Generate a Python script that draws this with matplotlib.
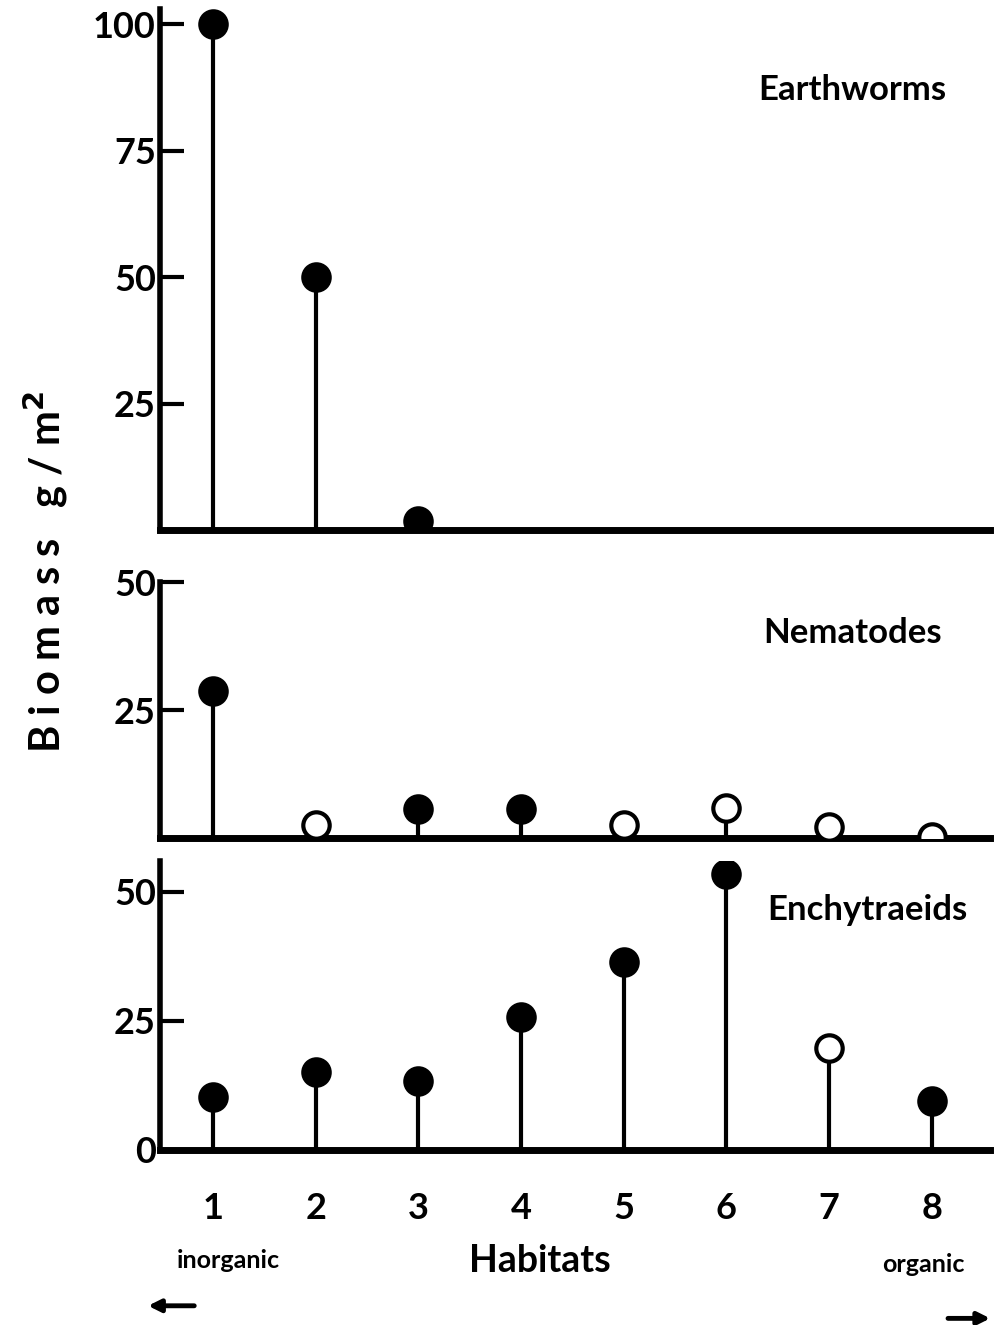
import matplotlib
matplotlib.use("Agg")
import matplotlib.pyplot as plt
import numpy as np

habitats = [1, 2, 3, 4, 5, 6, 7, 8]

# earthworms only at the first three habitats
worm_x = [1, 2, 3]
worm_y = [100, 50, 1.8]
worm_filled = [True, True, True]

nema_y = [28.7, 2.6, 5.7, 5.7, 2.6, 5.9, 2.2, 0.2]
nema_filled = [True, False, True, True, False, False, False, False]

ench_y = [10.3, 15.2, 13.4, 25.7, 36.4, 53.5, 19.8, 9.5]
ench_filled = [True, True, True, True, True, True, False, True]

plt.rcParams['font.family'] = ['Lato', 'DejaVu Sans']
plt.rcParams['font.weight'] = 'bold'

fig = plt.figure(figsize=(9.95, 13.25), dpi=100)
left, width = 0.1608, 0.834
ax1 = fig.add_axes([left, 0.600, width, 0.3932])
ax2 = fig.add_axes([left, 0.3675, width, 0.1932])
ax3 = fig.add_axes([left, 0.1321, width, 0.2181])


def stems(ax, xs, ys, filled):
    ax.vlines(xs, 0, ys, color='black', lw=3, zorder=2)
    for x, y, f in zip(xs, ys, filled):
        ax.plot(x, y, 'o', ms=19, mec='black', mew=3,
                mfc='black' if f else 'white', zorder=3)


def style(ax, ymax, ticks, labels):
    ax.set_xlim(0.484, 8.565)
    ax.set_ylim(0, ymax)
    for s in ['top', 'right']:
        ax.spines[s].set_visible(False)
    ax.spines['left'].set_linewidth(4)
    ax.spines['bottom'].set_linewidth(5)
    ax.set_yticks(ticks)
    ax.set_yticklabels(labels, fontsize=26, fontweight='bold')
    ax.tick_params(axis='y', direction='in', length=17, width=3, pad=3)
    ax.set_xticks([])


stems(ax1, worm_x, worm_y, worm_filled)
style(ax1, 103, [100, 75, 50, 25], ['100', '75', '50', '25'])
ax1.text(0.834, 0.845, 'Earthworms', transform=ax1.transAxes,
         ha='center', va='center', fontsize=25, fontweight='bold')

stems(ax2, habitats, nema_y, nema_filled)
style(ax2, 50, [50, 25], ['50', '25'])
ax2.text(0.835, 0.8, 'Nematodes', transform=ax2.transAxes,
         ha='center', va='center', fontsize=25, fontweight='bold')

stems(ax3, habitats, ench_y, ench_filled)
style(ax3, 56, [50, 25, 0], ['50', '25', '0'])
ax3.text(0.852, 0.83, 'Enchytraeids', transform=ax3.transAxes,
         ha='center', va='center', fontsize=25, fontweight='bold')
ax3.set_xticks(habitats)
ax3.set_xticklabels([str(h) for h in habitats], fontsize=26, fontweight='bold')
ax3.tick_params(axis='x', length=0, pad=30)

fig.text(0.543, 0.048, 'Habitats', ha='center', va='center',
         fontsize=27, fontweight='bold')
fig.text(0.229, 0.049, 'inorganic', ha='center', va='center',
         fontsize=18, fontweight='bold')
fig.text(0.928, 0.046, 'organic', ha='center', va='center',
         fontsize=18, fontweight='bold')
fig.add_artist(matplotlib.patches.FancyArrowPatch(
    (0.198, 0.0145), (0.146, 0.0145), transform=fig.transFigure,
    arrowstyle='-|>', mutation_scale=18, lw=3.5, color='black'))
fig.add_artist(matplotlib.patches.FancyArrowPatch(
    (0.950, 0.005), (0.998, 0.005), transform=fig.transFigure,
    arrowstyle='-|>', mutation_scale=18, lw=3.5, color='black'))

fig.text(0.045, 0.568, r'B i o m a s s   g / m$^{\mathbf{2}}$', rotation=90,
         ha='center', va='center', fontsize=30, fontweight='bold')

fig.savefig('out.png', dpi=100)
